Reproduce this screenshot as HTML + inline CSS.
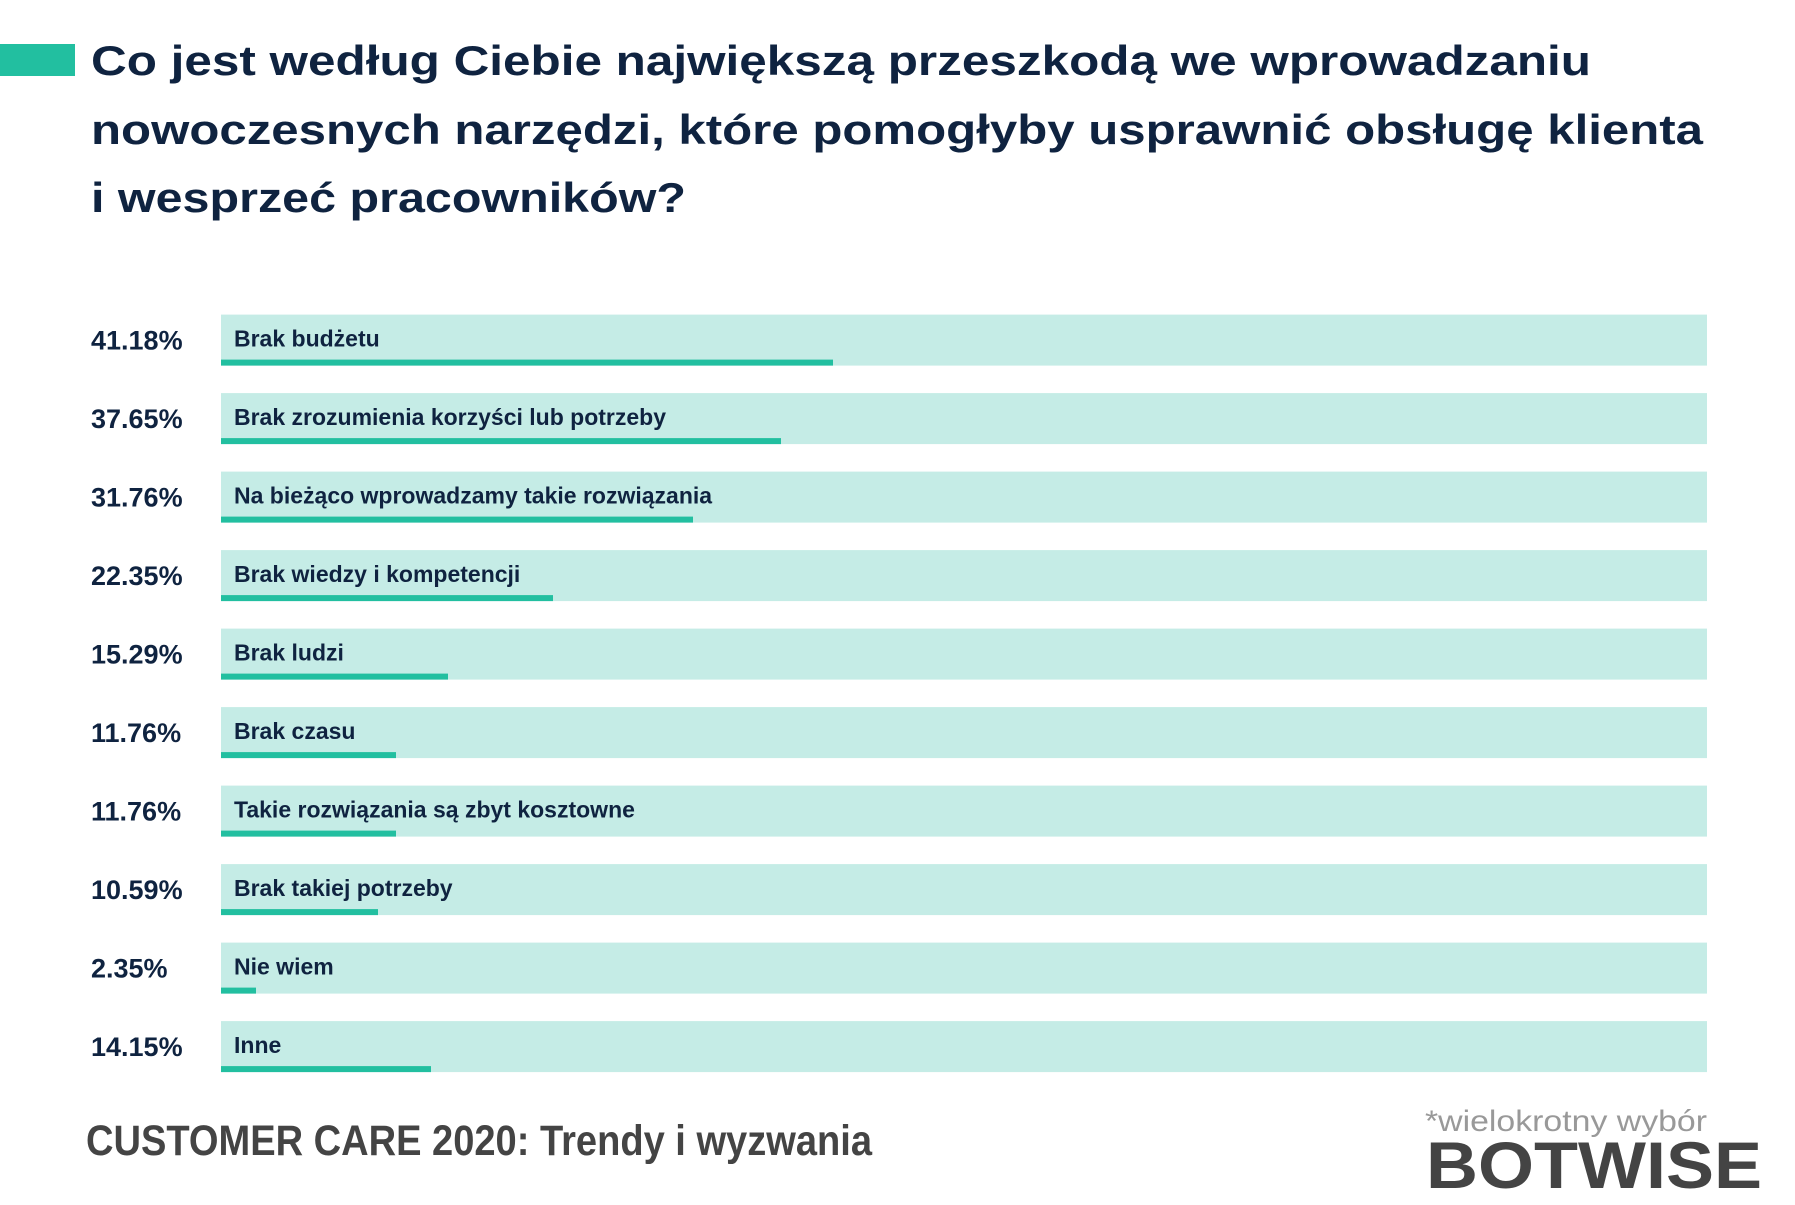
<!DOCTYPE html>
<html><head><meta charset="utf-8"><style>html,body{margin:0;padding:0;background:#fff}svg{display:block}</style></head>
<body>
<svg width="1795" height="1205" viewBox="0 0 1795 1205" xmlns="http://www.w3.org/2000/svg" font-family="Liberation Sans, sans-serif">
<rect width="1795" height="1205" fill="#fff"/>
<rect x="0" y="44" width="75" height="32" fill="#22bfa0"/>
<g fill="#0f2340" font-weight="bold" font-size="42">
<text x="91" y="75" textLength="1500" lengthAdjust="spacingAndGlyphs">Co jest według Ciebie największą przeszkodą we wprowadzaniu</text>
<text x="91" y="144" textLength="1612" lengthAdjust="spacingAndGlyphs">nowoczesnych narzędzi, które pomogłyby usprawnić obsługę klienta</text>
<text x="91" y="212" textLength="595" lengthAdjust="spacingAndGlyphs">i wesprzeć pracowników?</text>
</g>
<g fill="#c5ece6">
<rect x="221" y="314.6" width="1486" height="51"/>
<rect x="221" y="393.1" width="1486" height="51"/>
<rect x="221" y="471.6" width="1486" height="51"/>
<rect x="221" y="550.1" width="1486" height="51"/>
<rect x="221" y="628.6" width="1486" height="51"/>
<rect x="221" y="707.1" width="1486" height="51"/>
<rect x="221" y="785.6" width="1486" height="51"/>
<rect x="221" y="864.1" width="1486" height="51"/>
<rect x="221" y="942.6" width="1486" height="51"/>
<rect x="221" y="1021.1" width="1486" height="51"/>
</g>
<g fill="#22bfa0">
<rect x="221" y="359.6" width="612" height="6"/>
<rect x="221" y="438.1" width="560" height="6"/>
<rect x="221" y="516.6" width="472" height="6"/>
<rect x="221" y="595.1" width="332" height="6"/>
<rect x="221" y="673.6" width="227" height="6"/>
<rect x="221" y="752.1" width="175" height="6"/>
<rect x="221" y="830.6" width="175" height="6"/>
<rect x="221" y="909.1" width="157" height="6"/>
<rect x="221" y="987.6" width="35" height="6"/>
<rect x="221" y="1066.1" width="210" height="6"/>
</g>
<g fill="#0f2340" font-weight="bold" font-size="27">
<text x="91" y="349.6">41.18%</text>
<text x="91" y="428.1">37.65%</text>
<text x="91" y="506.6">31.76%</text>
<text x="91" y="585.1">22.35%</text>
<text x="91" y="663.6">15.29%</text>
<text x="91" y="742.1">11.76%</text>
<text x="91" y="820.6">11.76%</text>
<text x="91" y="899.1">10.59%</text>
<text x="91" y="977.6">2.35%</text>
<text x="91" y="1056.1">14.15%</text>
</g>
<g fill="#0f2340" font-weight="bold" font-size="23">
<text x="234" y="346.6">Brak budżetu</text>
<text x="234" y="425.1">Brak zrozumienia korzyści lub potrzeby</text>
<text x="234" y="503.6">Na bieżąco wprowadzamy takie rozwiązania</text>
<text x="234" y="582.1">Brak wiedzy i kompetencji</text>
<text x="234" y="660.6">Brak ludzi</text>
<text x="234" y="739.1">Brak czasu</text>
<text x="234" y="817.6">Takie rozwiązania są zbyt kosztowne</text>
<text x="234" y="896.1">Brak takiej potrzeby</text>
<text x="234" y="974.6">Nie wiem</text>
<text x="234" y="1053.1">Inne</text>
</g>
<text x="86" y="1155" font-size="43" font-weight="bold" fill="#444" textLength="786" lengthAdjust="spacingAndGlyphs">CUSTOMER CARE 2020: Trendy i wyzwania</text>
<text x="1425" y="1131" font-size="30" fill="#999" textLength="282" lengthAdjust="spacingAndGlyphs">*wielokrotny wybór</text>
<text x="1426" y="1188" font-size="66" font-weight="bold" fill="#444" textLength="336" lengthAdjust="spacingAndGlyphs">BOTWISE</text>
</svg>
</body></html>
